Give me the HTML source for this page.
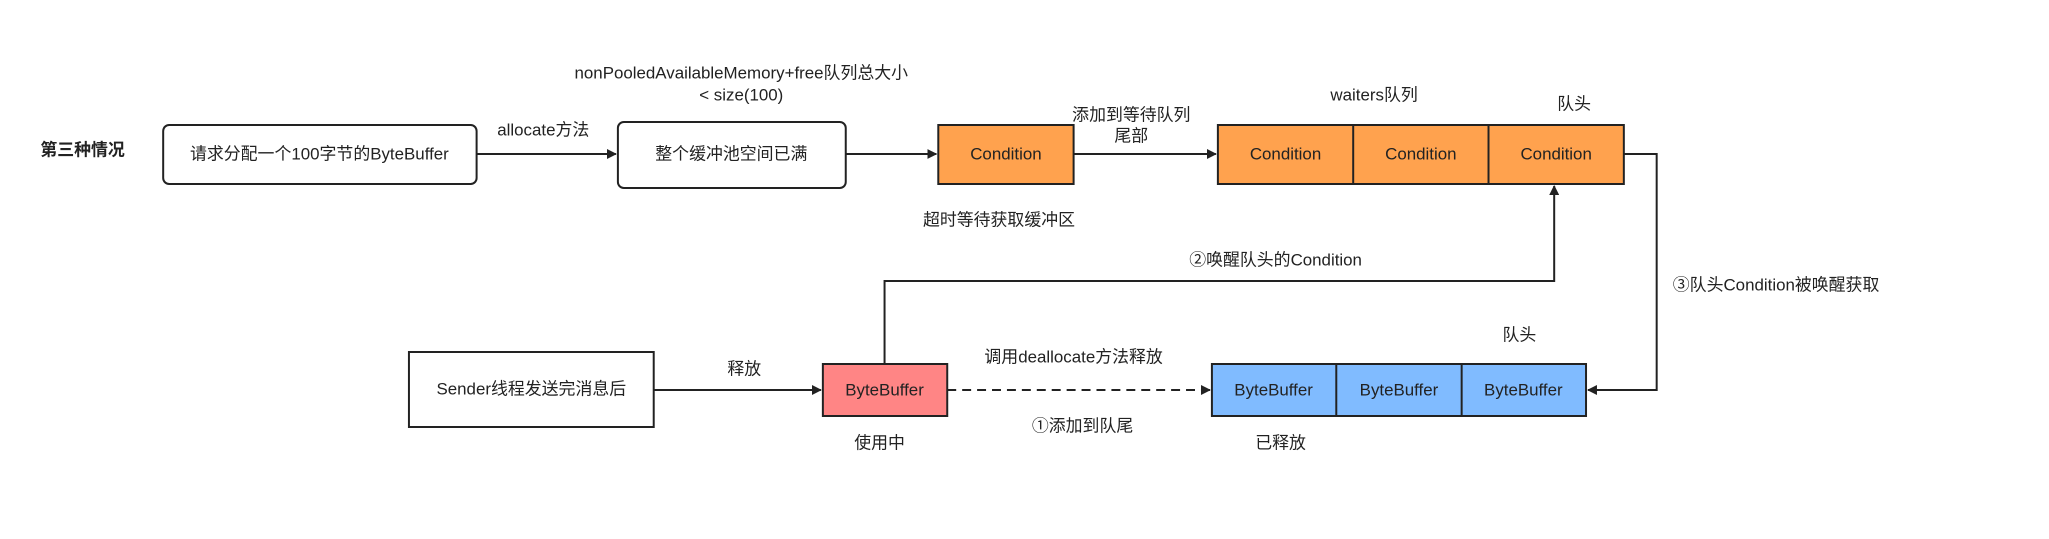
<!DOCTYPE html>
<html><head><meta charset="utf-8"><style>
body{margin:0;background:#fff;}
svg text{font-family:"Liberation Sans","Noto Sans CJK SC",sans-serif;font-size:17px;fill:#222;}
</style></head><body>
<svg width="2049" height="534" viewBox="0 0 2049 534" xmlns="http://www.w3.org/2000/svg">
<defs><marker id="a" markerWidth="10" markerHeight="10" refX="9" refY="5" orient="auto" markerUnits="userSpaceOnUse"><path d="M0,0 L10,5 L0,10 z" fill="#222"/></marker></defs>
<g transform="scale(0.995,1)">
<g stroke="#222" stroke-width="2" fill="none">
<rect x="164" y="125" width="315" height="59" rx="6" fill="#fff"/>
<rect x="621" y="122" width="229" height="66" rx="6" fill="#fff"/>
<rect x="943" y="125" width="136" height="59" fill="#FFA24E"/>
<rect x="1224" y="125" width="408" height="59" fill="#FFA24E"/>
<line x1="1360" y1="125" x2="1360" y2="184"/><line x1="1496" y1="125" x2="1496" y2="184"/>
<rect x="411" y="352" width="246" height="75" fill="#fff"/>
<rect x="827" y="364" width="125" height="52" fill="#FF8585"/>
<rect x="1218" y="364" width="376" height="52" fill="#80BBFF"/>
<line x1="1343" y1="364" x2="1343" y2="416"/><line x1="1469" y1="364" x2="1469" y2="416"/>
<line x1="479" y1="154" x2="619" y2="154" marker-end="url(#a)"/>
<line x1="850" y1="154" x2="941" y2="154" marker-end="url(#a)"/>
<line x1="1079" y1="154" x2="1222" y2="154" marker-end="url(#a)"/>
<polyline points="1632,154 1665,154 1665,390 1596,390" marker-end="url(#a)"/>
<polyline points="889,364 889,281 1562,281 1562,186" marker-end="url(#a)"/>
<line x1="657" y1="390" x2="825" y2="390" marker-end="url(#a)"/>
<line x1="952" y1="390" x2="1216" y2="390" stroke-dasharray="9,6" marker-end="url(#a)"/>
</g>
<g text-anchor="middle" dominant-baseline="middle">
<text x="83" y="151" font-weight="bold">第三种情况</text>
<text x="321" y="155">请求分配一个100字节的ByteBuffer</text>
<text x="546" y="131">allocate方法</text>
<text x="735" y="155">整个缓冲池空间已满</text>
<text x="745" y="74">nonPooledAvailableMemory+free队列总大小</text>
<text x="745" y="96">&lt; size(100)</text>
<text x="1011" y="155">Condition</text>
<text x="1004" y="221">超时等待获取缓冲区</text>
<text x="1137" y="116">添加到等待队列</text>
<text x="1137" y="137">尾部</text>
<text x="1292" y="155">Condition</text>
<text x="1428" y="155">Condition</text>
<text x="1564" y="155">Condition</text>
<text x="1381" y="96">waiters队列</text>
<text x="1582" y="105">队头</text>
<text x="1785" y="286">③队头Condition被唤醒获取</text>
<text x="1282" y="261">②唤醒队头的Condition</text>
<text x="534" y="390">Sender线程发送完消息后</text>
<text x="748" y="370">释放</text>
<text x="889" y="391">ByteBuffer</text>
<text x="884" y="444">使用中</text>
<text x="1079" y="358">调用deallocate方法释放</text>
<text x="1088" y="427">①添加到队尾</text>
<text x="1280" y="391">ByteBuffer</text>
<text x="1406" y="391">ByteBuffer</text>
<text x="1531" y="391">ByteBuffer</text>
<text x="1527" y="336">队头</text>
<text x="1287" y="444">已释放</text>
</g>
</g>
</svg>
</body></html>
